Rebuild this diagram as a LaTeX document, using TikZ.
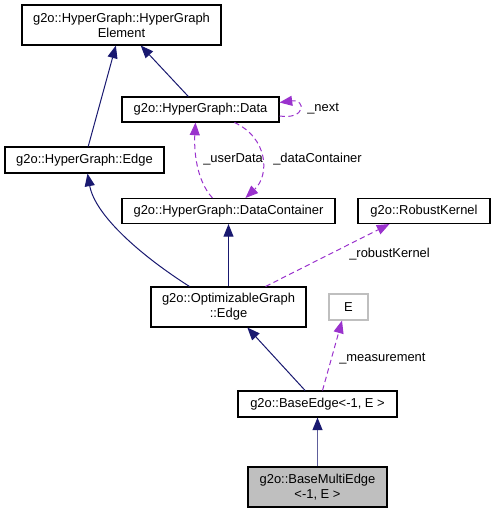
\documentclass[tikz,border=0pt]{standalone}
\usepackage{fontspec}
\setmainfont{Liberation Sans}
\usetikzlibrary{arrows.meta,calc}
\definecolor{dxblue}{HTML}{191970}
\definecolor{dxpurple}{HTML}{9A32CD}
\definecolor{dxgray}{HTML}{BFBFBF}
\begin{document}
\begin{tikzpicture}[x=0.75pt,y=-0.75pt,
  every node/.style={font=\fontsize{9.7}{11.25}\selectfont, text=black},
  cls/.style={draw=black, line width=0.8pt, fill=white, inner sep=0pt, align=center},
  inh/.style={draw=dxblue, line width=0.75pt, -{Triangle[length=9.5pt,width=7.5pt,fill=dxblue,color=dxblue]}},
  use/.style={draw=dxpurple, line width=0.75pt, dash pattern=on 4pt off 2.6pt, -{Triangle[length=9.5pt,width=7.5pt,fill=dxpurple]}},
  lbl/.style={inner sep=0pt, anchor=west}]
\useasboundingbox (0,0) rectangle (495,513);

\node[cls, minimum width=149.25pt, minimum height=30pt] (elem) at (121.5,25) {g2o::HyperGraph::HyperGraph\\Element};
\node[cls, minimum width=117.75pt, minimum height=18.75pt] (data) at (200.5,109.5) {g2o::HyperGraph::Data};
\node[cls, minimum width=119.25pt, minimum height=19.5pt] (hgedge) at (84.5,160) {g2o::HyperGraph::Edge};
\node[cls, minimum width=159.75pt, minimum height=18.75pt] (dc) at (228.5,211) {g2o::HyperGraph::DataContainer};
\node[cls, minimum width=99pt, minimum height=18.75pt] (rk) at (424,211) {g2o::RobustKernel};
\node[cls, minimum width=116.25pt, minimum height=30pt] (opt) at (228.5,307) {g2o::OptimizableGraph\\::Edge};
\node[cls, draw=dxgray, minimum width=29.25pt, minimum height=19.5pt] (E) at (348.5,307) {E};
\node[cls, minimum width=119.25pt, minimum height=19.5pt] (be) at (317.5,404) {g2o::BaseEdge<-1, E >};
\node[cls, fill=dxgray, minimum width=104.25pt, minimum height=30pt] (bme) at (317.5,487) {g2o::BaseMultiEdge\\<-1, E >};

% inheritance
\draw[inh] (hgedge) -- (elem);
\draw[inh] (data) -- (elem);
\draw[inh] ($(opt.north west)+(39,0)$) .. controls (140,255) and (95,215) .. ($(hgedge.south)+(3,0)$);
\draw[inh] (opt.north) -- (dc.south);
\draw[inh] (be) -- (opt);
\draw[inh, draw=dxblue!70, line width=1pt] (bme) -- (be);

% usage
\draw[use] ($(data.east)+(0,6.5)$) .. controls (306,120) and (306,99) .. ($(data.east)+(0,-7)$);
\draw[use] ($(dc.north west)+(91,0)$) .. controls (196,180) and (194,150) .. ($(data.south west)+(74,0)$);
\draw[use] ($(data.south west)+(113,0)$) .. controls (268,138) and (270,175) .. ($(dc.north west)+(124,0)$);
\draw[use] ($(opt.north east)+(-41,0)$) -- ($(rk.south west)+(32,0)$);
\draw[use] ($(be.north)+(5,0)$) -- ($(E.south)+(-6.5,0)$);

% labels
\node[lbl] (lnext) at (307,109) {\_next};
\node[lbl] (luser) at (203,159) {\_userData};
\node[lbl] (ldc) at (273,159) {\_dataContainer};
\node[lbl] (lrk) at (349,254) {\_robustKernel};
\node[lbl] (lmeas) at (339,359) {\_measurement};
\end{tikzpicture}
\end{document}
